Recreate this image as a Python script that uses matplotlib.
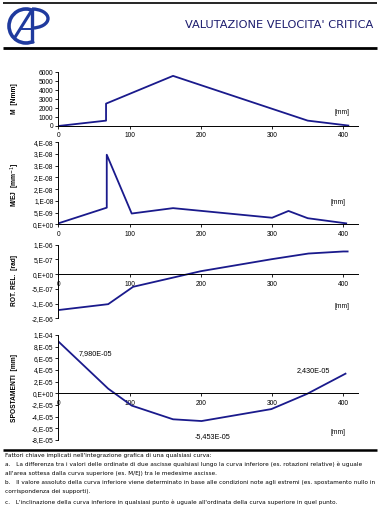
import matplotlib
matplotlib.use("Agg")
import matplotlib.pyplot as plt
from matplotlib.patches import Arc
import numpy as np

# ---------------- data ----------------
x_ticks = [0, 100, 200, 300, 400]

x_M = [0, 67, 67, 161, 350, 407]
M_vals = [0, 600, 2500, 5600, 600, 50]
M_ticks = [0, 1000, 2000, 3000, 4000, 5000, 6000]
M_labels = ["0", "1000", "2000", "3000", "4000", "5000", "6000"]

x_MEJ = [0, 68, 68, 103, 161, 300, 323, 350, 404]
MEJ_vals = [0.4e-9, 7.1e-9, 2.97e-8, 4.6e-9, 6.9e-9, 2.8e-9, 5.7e-9, 2.6e-9, 0.4e-9]
MEJ_ticks = [0, 5e-9, 1e-8, 1.5e-8, 2e-8, 2.5e-8, 3e-8, 3.5e-8]
MEJ_labels = ["0,E+00", "5,E-09", "1,E-08", "2,E-08", "2,E-08", "3,E-08", "3,E-08", "4,E-08"]

x_rot = [0, 70, 105, 200, 300, 351, 400, 406]
rot_vals = [-1.22e-6, -1.02e-6, -4.3e-7, 1.0e-7, 5.1e-7, 7.0e-7, 7.7e-7, 7.7e-7]
rot_ticks = [-1.5e-6, -1e-6, -5e-7, 0, 5e-7, 1e-6]
rot_labels = ["-2,E-06", "-1,E-06", "-5,E-07", "0,E+00", "5,E-07", "1,E-06"]

x_sp = [0, 70, 103, 161, 201, 299, 349, 403]
sp_vals = [8.9e-5, 0.8e-5, -2.1e-5, -4.45e-5, -4.75e-5, -2.7e-5, -0.1e-5, 3.37e-5]
sp_ticks = [-8e-5, -6e-5, -4e-5, -2e-5, 0, 2e-5, 4e-5, 6e-5, 8e-5, 1e-4]
sp_labels = ["-8,E-05", "-6,E-05", "-4,E-05", "-2,E-05", "0,E+00",
             "2,E-05", "4,E-05", "6,E-05", "8,E-05", "1,E-04"]
sp_annot = ["7,980E-05", "-5,453E-05", "2,430E-05"]

ylabels = ["M  [Nmm]", "M/EJ  [mm$^{-1}$]", "ROT. REL.  [rad]", "SPOSTAMENTI  [mm]"]

title = "VALUTAZIONE VELOCITA' CRITICA"
notes = [
    "Fattori chiave implicati nell'integrazione grafica di una qualsiasi curva:",
    "a.   La differenza tra i valori delle ordinate di due ascisse qualsiasi lungo la curva inferiore (es. rotazioni relative) è uguale",
    "all'area sottesa dalla curva superiore (es. M/EJ) tra le medesime ascisse.",
    "b.   Il valore assoluto della curva inferiore viene determinato in base alle condizioni note agli estremi (es. spostamento nullo in",
    "corrispondenza dei supporti).",
    "c.   L'inclinazione della curva inferiore in qualsiasi punto è uguale all'ordinata della curva superiore in quel punto.",
]

# ---------------- figure ----------------
W, H = 380, 513
fig = plt.figure(figsize=(W / 100, H / 100), dpi=100)
fig.patch.set_facecolor("white")
plt.rcParams["font.family"] = ["Liberation Sans", "DejaVu Sans"]

LINE_C = "#1a1a8c"
TICK_FS = 4.8
XL, XR = 58.3, 357.6
XMAX = 420

def rect(top, bottom):
    return [XL / W, 1 - bottom / H, (XR - XL) / W, (bottom - top) / H]

def style(ax, ymin, ymax, yt, ylab, zero_axis, xlabel_pad):
    ax.set_xlim(0, XMAX)
    ax.set_ylim(ymin, ymax)
    for s in ["top", "right"]:
        ax.spines[s].set_visible(False)
    ax.spines["left"].set_linewidth(0.7)
    ax.spines["bottom"].set_linewidth(0.7)
    if zero_axis:
        ax.spines["bottom"].set_position(("data", 0))
    ax.set_xticks(x_ticks)
    ax.set_xticklabels([str(v) for v in x_ticks])
    ax.set_yticks(yt)
    ax.set_yticklabels(ylab)
    ax.tick_params(axis="both", labelsize=TICK_FS, length=2, width=0.6, direction="out")
    ax.tick_params(axis="x", pad=xlabel_pad)
    ax.tick_params(axis="y", pad=1.5)
    ax.patch.set_alpha(0)

ax1 = fig.add_axes(rect(72.3, 126))
ax1.plot(x_M, M_vals, color=LINE_C, lw=1.3)
style(ax1, 0, 6000, M_ticks, M_labels, False, 2.5)

ax2 = fig.add_axes(rect(142.3, 224.3))
ax2.plot(x_MEJ, MEJ_vals, color=LINE_C, lw=1.3)
style(ax2, 0, 3.5e-8, MEJ_ticks, MEJ_labels, False, 3)

ax3 = fig.add_axes(rect(244.7, 318.3))
ax3.plot(x_rot, rot_vals, color=LINE_C, lw=1.3)
style(ax3, -1.5e-6, 1e-6, rot_ticks, rot_labels, True, 3)

ax4 = fig.add_axes(rect(335, 440))
ax4.plot(x_sp, sp_vals, color=LINE_C, lw=1.3)
style(ax4, -8e-5, 1e-4, sp_ticks, sp_labels, True, 3)

ann_fs = 5.2
ax4.annotate(sp_annot[0], xy=(x_sp[0], sp_vals[0]), xytext=(26.5, -8.6),
             textcoords="offset points", ha="center", va="center", fontsize=ann_fs)
ax4.annotate(sp_annot[1], xy=(x_sp[4], sp_vals[4]), xytext=(8, -11.5),
             textcoords="offset points", ha="center", va="center", fontsize=ann_fs)
ax4.annotate(sp_annot[2], xy=(x_sp[-1], sp_vals[-1]), xytext=(-23, 2),
             textcoords="offset points", ha="center", va="center", fontsize=ann_fs)

# ---------------- overlay (pixel coordinates) ----------------
ov = fig.add_axes([0, 0, 1, 1], zorder=-1)
ov.set_xlim(0, W)
ov.set_ylim(H, 0)
ov.axis("off")

# header lines
ov.plot([3, 377], [3.3, 3.3], color="black", lw=1.2, solid_capstyle="butt")
ov.plot([3, 377], [48.3, 48.3], color="black", lw=2.0, solid_capstyle="butt")

# logo
LOGO_C = "#1f3a9e"
ov.add_patch(Arc((26, 26), 34, 34, theta1=62, theta2=298, color=LOGO_C, lw=2.6))
ov.plot([32, 32], [9, 43], color=LOGO_C, lw=2.4, solid_capstyle="butt")
ov.plot([14.5, 32], [38, 10], color=LOGO_C, lw=2.2, solid_capstyle="butt")
ov.plot([21, 32], [29, 29], color=LOGO_C, lw=1.4, solid_capstyle="butt")
ov.add_patch(Arc((32, 18.5), 32, 19, theta1=-90, theta2=90, color=LOGO_C, lw=2.4))

ov.text(373, 25, title, ha="right", va="center", fontsize=8.2, color="#1c1c6e",
        family=["DejaVu Sans"])

# y-axis labels
for lab, yc in zip(ylabels, [99, 185, 281, 388]):
    ov.text(15, yc, lab, rotation=90, ha="center", va="center",
            fontsize=4.8, fontweight="bold")

# [mm] labels
for xc, yc in [(342, 112.3), (338, 202.7), (342, 306.7), (338, 432.3)]:
    ov.text(xc, yc, "[mm]", ha="center", va="center", fontsize=4.8)

# bottom line and notes
ov.plot([3, 377], [449.5, 449.5], color="black", lw=1.8, solid_capstyle="butt")
for t, yc in zip(notes, [455, 464.5, 473.5, 482.5, 492, 502]):
    ov.text(5, yc, t, ha="left", va="center", fontsize=4.15, family=["DejaVu Sans"])

fig.savefig("out.png", dpi=100, facecolor="white")
